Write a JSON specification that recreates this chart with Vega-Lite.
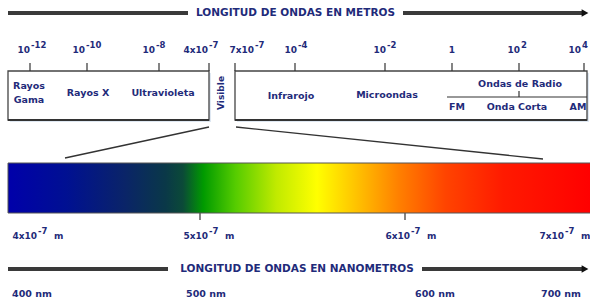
{
  "$schema": "https://vega.github.io/schema/vega-lite/v6.json",
  "width": 590,
  "height": 302,
  "autosize": {"type": "none"},
  "padding": 0,
  "background": "white",
  "view": {"stroke": null},
  "config": {
    "text": {"font": "DejaVu Sans", "fontWeight": "bold", "fill": "#1f2b7a", "fontSize": 8}
  },
  "datasets": {
    "shafts": [
      {"x": 8, "y": 13, "x2": 188, "y2": 13},
      {"x": 403, "y": 13, "x2": 582, "y2": 13},
      {"x": 8, "y": 269, "x2": 168, "y2": 269},
      {"x": 422, "y": 269, "x2": 582, "y2": 269}
    ],
    "heads": [{"x": 585, "y": 13}, {"x": 585, "y": 269}],
    "titles": [
      {"x": 295.5, "y": 13, "t": "LONGITUD DE ONDAS EN METROS"},
      {"x": 297, "y": 269, "t": "LONGITUD DE ONDAS EN NANOMETROS"}
    ],
    "ticks": [
      {"x": 30, "y": 63, "x2": 30, "y2": 71},
      {"x": 87, "y": 63, "x2": 87, "y2": 71},
      {"x": 159, "y": 63, "x2": 159, "y2": 71},
      {"x": 209, "y": 63, "x2": 209, "y2": 71},
      {"x": 235, "y": 63, "x2": 235, "y2": 71},
      {"x": 295, "y": 63, "x2": 295, "y2": 71},
      {"x": 385, "y": 63, "x2": 385, "y2": 71},
      {"x": 452, "y": 63, "x2": 452, "y2": 71},
      {"x": 519, "y": 63, "x2": 519, "y2": 71},
      {"x": 584, "y": 63, "x2": 584, "y2": 71},
      {"x": 200, "y": 213, "x2": 200, "y2": 220},
      {"x": 405, "y": 213, "x2": 405, "y2": 220},
      {"x": 447, "y": 97, "x2": 587, "y2": 97},
      {"x": 519, "y": 91, "x2": 519, "y2": 97}
    ],
    "powers": [
      {"x": 30, "y": 50, "base": "10", "exp": "-12", "unit": ""},
      {"x": 85, "y": 50, "base": "10", "exp": "-10", "unit": ""},
      {"x": 155, "y": 50, "base": "10", "exp": "-8", "unit": ""},
      {"x": 208, "y": 50, "base": "4x10", "exp": "-7", "unit": ""},
      {"x": 254, "y": 50, "base": "7x10", "exp": "-7", "unit": ""},
      {"x": 297, "y": 50, "base": "10", "exp": "-4", "unit": ""},
      {"x": 386, "y": 50, "base": "10", "exp": "-2", "unit": ""},
      {"x": 455, "y": 50, "base": "1", "exp": "", "unit": ""},
      {"x": 520, "y": 50, "base": "10", "exp": "2", "unit": ""},
      {"x": 581, "y": 50, "base": "10", "exp": "4", "unit": ""},
      {"x": 37, "y": 236, "base": "4x10", "exp": "-7", "unit": "m"},
      {"x": 208, "y": 236, "base": "5x10", "exp": "-7", "unit": "m"},
      {"x": 410, "y": 236, "base": "6x10", "exp": "-7", "unit": "m"},
      {"x": 564, "y": 236, "base": "7x10", "exp": "-7", "unit": "m"}
    ],
    "boxes": [
      {"x": 8, "y": 71, "x2": 209, "y2": 120},
      {"x": 235, "y": 71, "x2": 587, "y2": 120}
    ],
    "connectors": [
      {"x": 209, "y": 127, "x2": 65, "y2": 158},
      {"x": 236, "y": 127, "x2": 543, "y2": 159}
    ],
    "boxLabels": [
      {"x": 29, "y": 86, "t": "Rayos"},
      {"x": 29, "y": 100, "t": "Gama"},
      {"x": 88, "y": 93, "t": "Rayos X"},
      {"x": 163, "y": 93, "t": "Ultravioleta"},
      {"x": 291, "y": 96, "t": "Infrarojo"},
      {"x": 387, "y": 95, "t": "Microondas"},
      {"x": 520, "y": 84, "t": "Ondas de Radio"},
      {"x": 457, "y": 107, "t": "FM"},
      {"x": 517, "y": 107, "t": "Onda Corta"},
      {"x": 578, "y": 107, "t": "AM"}
    ],
    "visible": [{"x": 221, "y": 93, "t": "Visible"}],
    "spectrum": [{"x": 8, "y": 163, "x2": 591, "y2": 213}],
    "nm": [
      {"x": 32, "y": 294, "t": "400  nm"},
      {"x": 206, "y": 294, "t": "500  nm"},
      {"x": 435, "y": 294, "t": "600   nm"},
      {"x": 561, "y": 294, "t": "700  nm"}
    ]
  },
  "encoding": {
    "x": {"field": "x", "type": "quantitative", "axis": null, "scale": {"domain": [0, 590], "nice": false, "zero": false}},
    "y": {"field": "y", "type": "quantitative", "axis": null, "scale": {"domain": [0, 302], "nice": false, "zero": false, "reverse": true}}
  },
  "layer": [
    {
      "data": {"name": "shafts"},
      "mark": {"type": "rule", "stroke": "#3a3a3a", "strokeWidth": 4},
      "encoding": {"x2": {"field": "x2"}, "y2": {"field": "y2"}}
    },
    {
      "data": {"name": "heads"},
      "mark": {"type": "point", "shape": "triangle-right", "filled": true, "fill": "#111", "size": 60, "opacity": 1}
    },
    {
      "data": {"name": "titles"},
      "mark": {"type": "text", "fontSize": 10.5, "align": "center", "baseline": "middle"},
      "encoding": {"text": {"field": "t"}}
    },
    {
      "data": {"name": "boxes"},
      "mark": {"type": "rect", "fill": "#dfe8f2", "xOffset": 2, "x2Offset": 2, "yOffset": 2, "y2Offset": 2},
      "encoding": {"x2": {"field": "x2"}, "y2": {"field": "y2"}}
    },
    {
      "data": {"name": "boxes"},
      "mark": {"type": "rect", "fill": "white", "stroke": "#444", "strokeWidth": 1.3},
      "encoding": {"x2": {"field": "x2"}, "y2": {"field": "y2"}}
    },
    {
      "data": {"name": "boxes"},
      "mark": {"type": "rule", "stroke": "#333", "strokeWidth": 2.2},
      "encoding": {"x2": {"field": "x2"}, "y": {"field": "y2"}}
    },
    {
      "data": {"name": "ticks"},
      "mark": {"type": "rule", "stroke": "#333", "strokeWidth": 1.2},
      "encoding": {"x2": {"field": "x2"}, "y2": {"field": "y2"}}
    },
    {
      "data": {"name": "connectors"},
      "mark": {"type": "rule", "stroke": "#333", "strokeWidth": 1.4},
      "encoding": {"x2": {"field": "x2"}, "y2": {"field": "y2"}}
    },
    {
      "data": {"name": "powers"},
      "mark": {"type": "text", "fontSize": 9, "align": "right", "baseline": "middle"},
      "encoding": {"text": {"field": "base"}}
    },
    {
      "data": {"name": "powers"},
      "mark": {"type": "text", "fontSize": 8.5, "align": "left", "baseline": "middle", "dx": 1, "dy": -5},
      "encoding": {"text": {"field": "exp"}}
    },
    {
      "data": {"name": "powers"},
      "mark": {"type": "text", "fontSize": 9, "align": "left", "baseline": "middle", "dx": 17},
      "encoding": {"text": {"field": "unit"}}
    },
    {
      "data": {"name": "boxLabels"},
      "mark": {"type": "text", "fontSize": 9.5, "align": "center", "baseline": "middle"},
      "encoding": {"text": {"field": "t"}}
    },
    {
      "data": {"name": "visible"},
      "mark": {"type": "text", "fontSize": 9, "align": "center", "baseline": "middle", "angle": 270},
      "encoding": {"text": {"field": "t"}}
    },
    {
      "data": {"name": "spectrum"},
      "mark": {
        "type": "rect",
        "stroke": "#555",
        "strokeWidth": 1,
        "fill": {
          "gradient": "linear", "x1": 0, "x2": 1, "y1": 0, "y2": 0,
          "stops": [
            {"offset": 0, "color": "#0000aa"},
            {"offset": 0.1, "color": "#001092"},
            {"offset": 0.2, "color": "#0a2468"},
            {"offset": 0.27, "color": "#0a3848"},
            {"offset": 0.3, "color": "#0b4a38"},
            {"offset": 0.335, "color": "#009a00"},
            {"offset": 0.39, "color": "#55cc00"},
            {"offset": 0.46, "color": "#c0ea00"},
            {"offset": 0.53, "color": "#ffff00"},
            {"offset": 0.6, "color": "#ffc000"},
            {"offset": 0.67, "color": "#ff8000"},
            {"offset": 0.75, "color": "#ff4400"},
            {"offset": 0.85, "color": "#ff1a00"},
            {"offset": 1, "color": "#ff0000"}
          ]
        }
      },
      "encoding": {"x2": {"field": "x2"}, "y2": {"field": "y2"}}
    },
    {
      "data": {"name": "nm"},
      "mark": {"type": "text", "fontSize": 9.5, "align": "center", "baseline": "middle"},
      "encoding": {"text": {"field": "t"}}
    }
  ]
}
